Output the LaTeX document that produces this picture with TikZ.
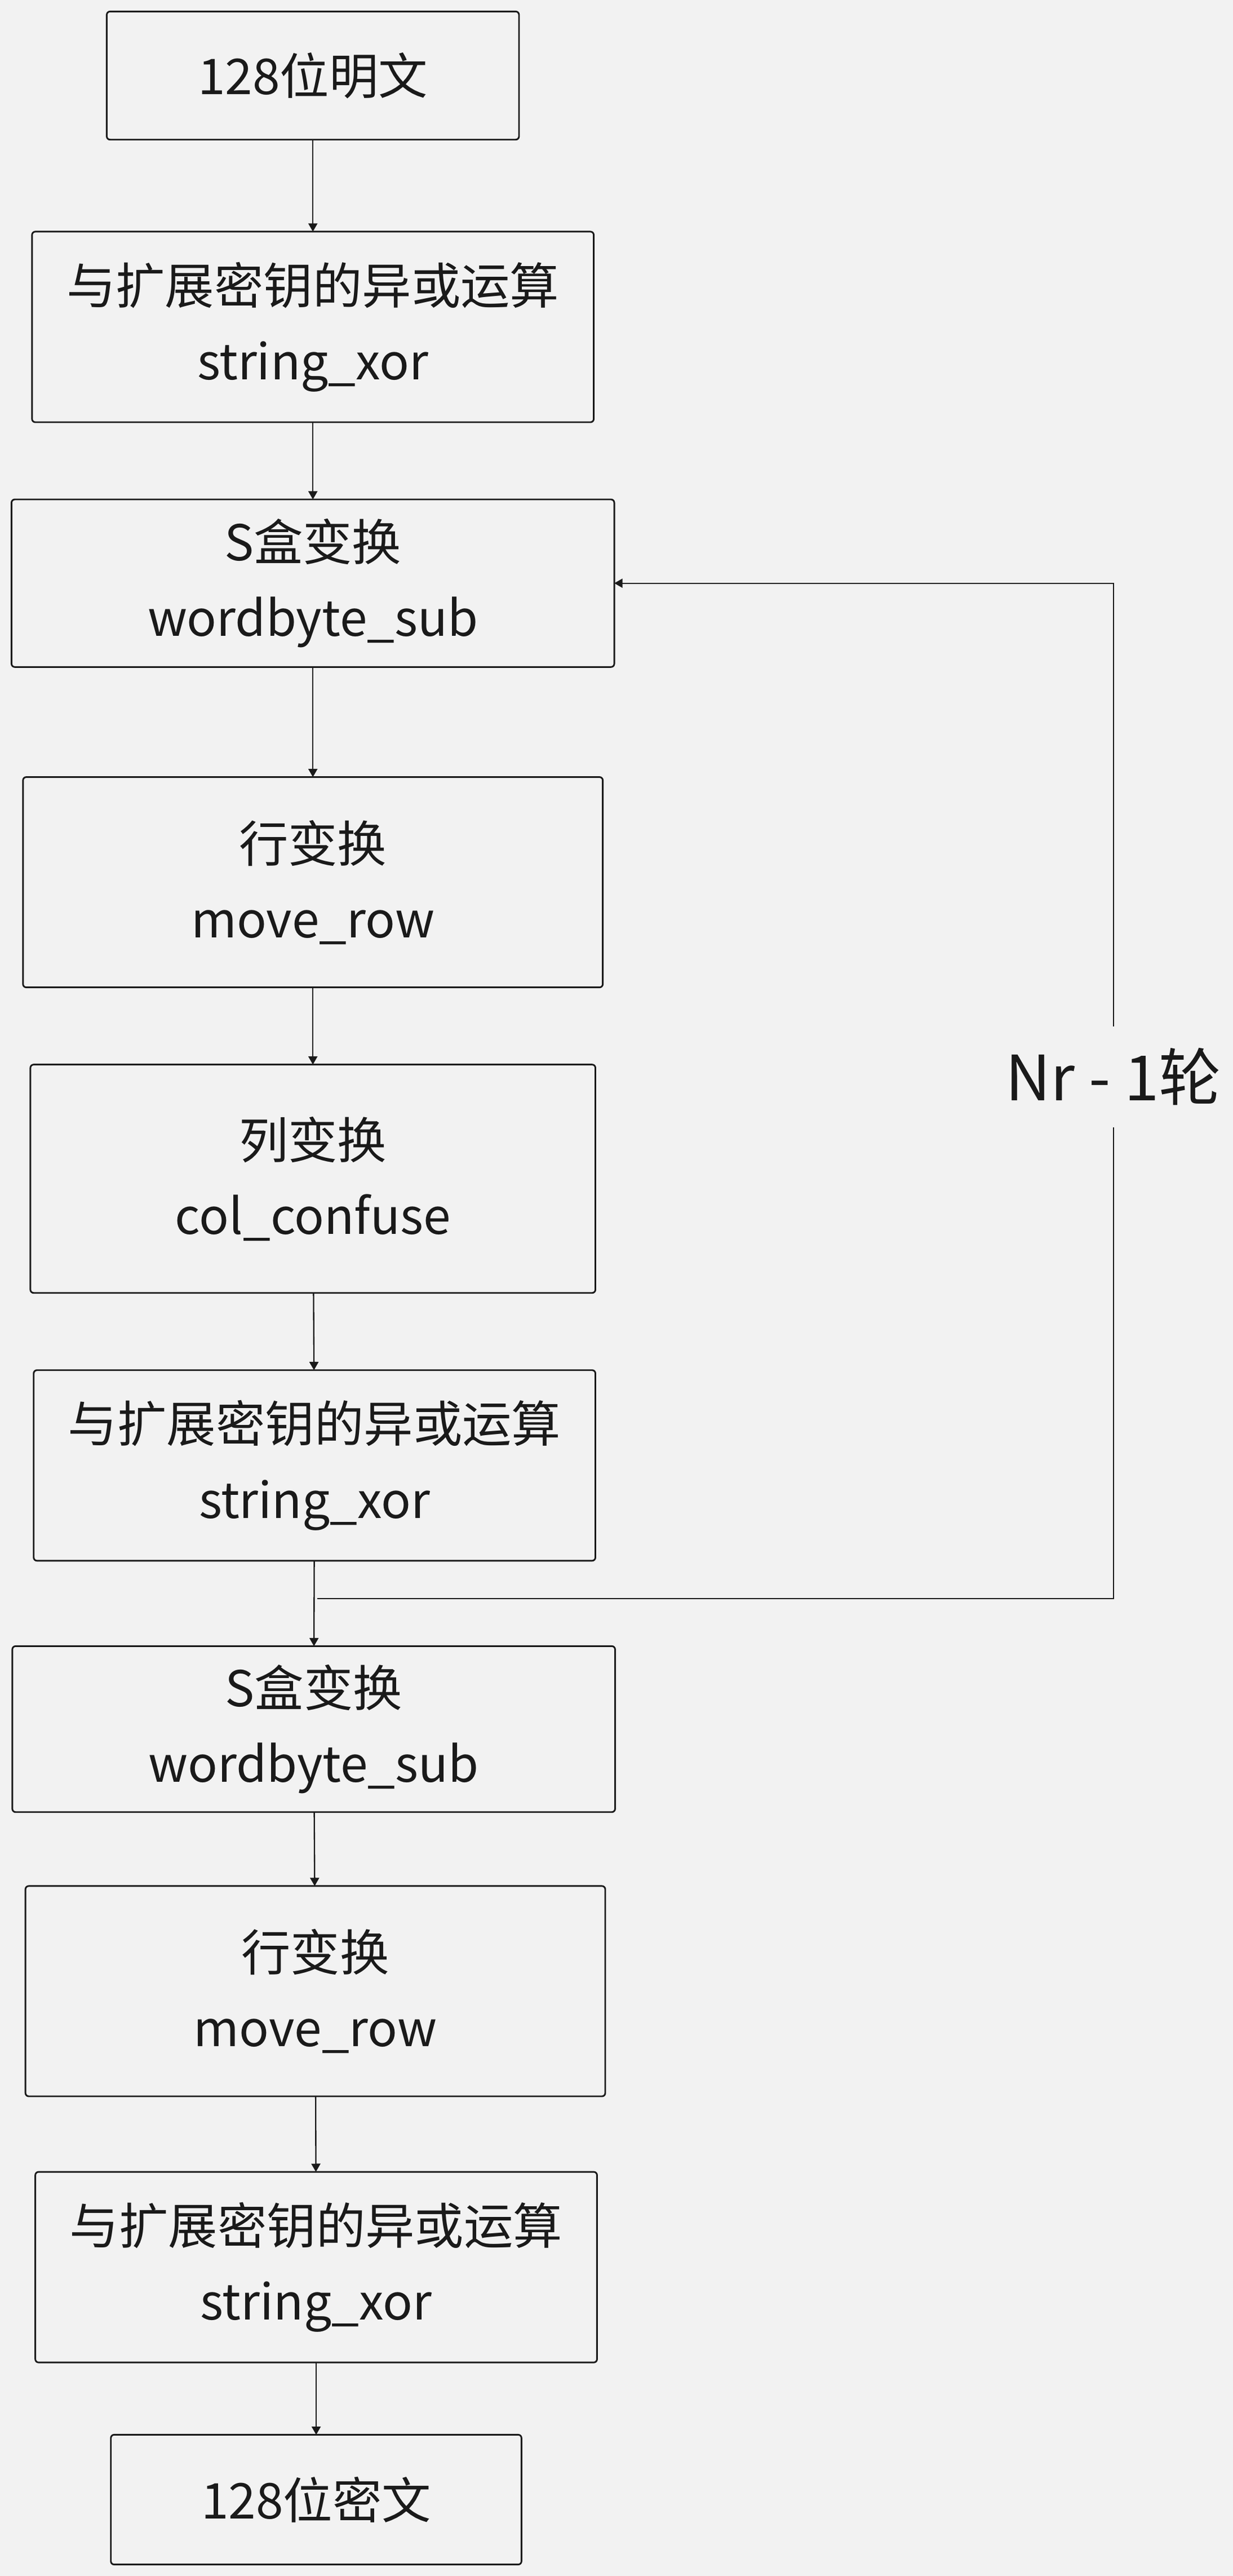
\documentclass[tikz,border=0pt]{standalone}
\usepackage{fontspec}
\newfontfamily\cjk{Noto Sans CJK SC}
\usepackage{xcolor}
\usepackage{tikz}
\usetikzlibrary{arrows.meta,positioning}
\definecolor{bgcol}{HTML}{F2F2F2}
\definecolor{inkcol}{HTML}{1A1A1A}

\begin{document}
\begin{tikzpicture}[
  x=1pt, y=-1pt,
  font=\cjk\fontsize{30}{46}\selectfont,
  box/.style={draw=inkcol, text=inkcol, rounded corners=2pt, align=center, line width=1pt, inner sep=0pt, outer sep=0pt},
  arr/.style={-{Triangle[length=5pt,width=5.5pt]}, line width=0.8pt, draw=inkcol},
  loopline/.style={line width=0.8pt, draw=inkcol}
]
  \fill[bgcol] (0,0) rectangle (750.7,1568);

  \node[box, minimum width=251pt, minimum height=78pt] (plain) at (190.5,46) {128位明文};
  \node[box, minimum width=342pt, minimum height=116pt, below=56pt of plain] (xor1) {与扩展密钥的异或运算\\string\_xor};
  \node[box, minimum width=367pt, minimum height=102pt, below=47pt of xor1] (sbox1) {S盒变换\\wordbyte\_sub};
  \node[box, minimum width=353pt, minimum height=128pt, below=67pt of sbox1] (row1) {行变换\\move\_row};
  \node[box, minimum width=344pt, minimum height=139pt, below=47pt of row1] (col1) {列变换\\col\_confuse};
  \node[box, minimum width=342pt, minimum height=116pt, below=47pt of col1, xshift=1pt] (xor2) {与扩展密钥的异或运算\\string\_xor};
  \node[box, minimum width=367pt, minimum height=101pt, below=52pt of xor2, xshift=-0.5pt] (sbox2) {S盒变换\\wordbyte\_sub};
  \node[box, minimum width=353pt, minimum height=128pt, below=45pt of sbox2, xshift=1pt] (row2) {行变换\\move\_row};
  \node[box, minimum width=342pt, minimum height=116pt, below=46pt of row2, xshift=0.5pt] (xor3) {与扩展密钥的异或运算\\string\_xor};
  \node[box, minimum width=250pt, minimum height=79pt, below=44pt of xor3] (cipher) {128位密文};

  \foreach \a/\b in {plain/xor1, xor1/sbox1, sbox1/row1, row1/col1, col1/xor2,
                     xor2/sbox2, sbox2/row2, row2/xor3, xor3/cipher}
    \draw[arr] (\a) -- (\b);

  % round loop back to the first S box
  \coordinate (loopstart) at (193,973);
  \node[text=inkcol, font=\cjk\fontsize{38}{44}\selectfont, minimum height=61pt, inner sep=0pt] (rounds) at (678,655.5) {Nr - 1轮};
  \draw[loopline] (loopstart) -| (rounds.south);
  \draw[arr] (rounds.north) |- (sbox1.east);
\end{tikzpicture}
\end{document}
